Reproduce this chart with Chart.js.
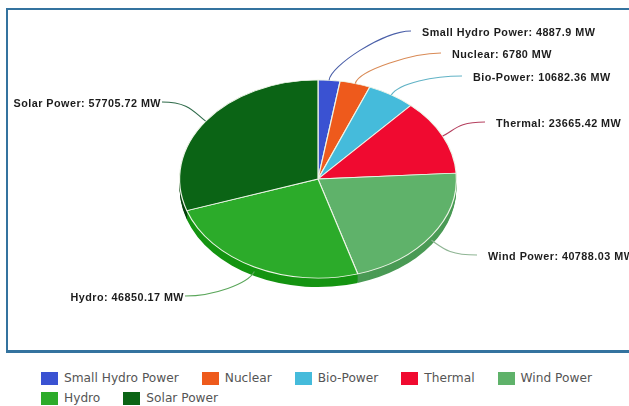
<!DOCTYPE html>
<html lang="en">
<head>
    <meta charset="UTF-8">
    <title>Installed capacity by source</title>
    <script src="https://cdn.jsdelivr.net/npm/chart.js"></script>
    <style>
        html, body { margin: 0; padding: 0; background: #fff; overflow: hidden; }
        #frame { position: absolute; left: 6px; top: 8px; width: 621px; height: 340px; border: solid #34739f; border-width: 2px 1px 3px 2px; border-right-color: #c4e6ee; }
        #chart { position: absolute; left: 0; top: 0; }
        #legend { position: absolute; left: 41px; top: 371px; width: 575px; display: flex; flex-wrap: wrap; column-gap: 23px; row-gap: 6px; font: 12.2px "DejaVu Sans", sans-serif; color: #555; }
        #legend div { display: flex; align-items: center; height: 14px; }
        #legend span { display: inline-block; width: 17px; height: 13px; margin-right: 6px; }
    </style>
</head>
<body>

    <div id="frame"></div>
    <canvas id="chart" width="629" height="360"></canvas>
    <div id="legend"></div>

    <script>
        const labels = ["Small Hydro Power", "Nuclear", "Bio-Power", "Thermal", "Wind Power", "Hydro", "Solar Power"];
        const values = [4887.9, 6780, 10682.36, 23665.42, 40788.03, 46850.17, 57705.72];
        const valueText = ["4887.9", "6780", "10682.36", "23665.42", "40788.03", "46850.17", "57705.72"];

        const colors = ["#3a52d2", "#ee5a1c", "#45bbdb", "#f00a30", "#5fb26a", "#2cab2a", "#0b6415"];
        const sideColors = ["#2a3ca0", "#b04414", "#338ba3", "#b00824", "#4a9a55", "#159412", "#07410e"];
        const lineColors = ["#4a5fa8", "#d98a55", "#62b3c6", "#b5405f", "#8fb594", "#5aa65a", "#2f6b4a"];

        // where each callout text sits: [x, y, align]
        const calloutPos = [
            [422, 33, "left"], [452, 55, "left"], [473, 78, "left"], [496, 124, "left"],
            [488, 257, "left"], [184, 298, "right"], [161, 104, "right"]
        ];

        const squash = 0.716;
        const depth = 9;

        function squashAround(ctx, arc) {
            ctx.translate(arc.x, arc.y);
            ctx.scale(1, squash);
            ctx.translate(-arc.x, -arc.y);
        }

        // flattens the pie and draws the side wall under it
        const tiltPlugin = {
            id: "tilt",
            beforeDatasetDraw(chart) {
                const ctx = chart.ctx;
                const arcs = chart.getDatasetMeta(0).data;
                ctx.save();
                for (let dy = depth; dy > 0; dy--) {
                    arcs.forEach((arc, i) => {
                        ctx.save();
                        ctx.translate(0, dy);
                        squashAround(ctx, arc);
                        ctx.fillStyle = sideColors[i];
                        ctx.beginPath();
                        ctx.moveTo(arc.x, arc.y);
                        ctx.arc(arc.x, arc.y, arc.outerRadius, arc.startAngle, arc.endAngle);
                        ctx.closePath();
                        ctx.fill();
                        ctx.restore();
                    });
                }
                ctx.restore();
                ctx.save();
                squashAround(ctx, arcs[0]);
            },
            afterDatasetDraw(chart) {
                chart.ctx.restore();
            },
            afterDraw(chart) {
                const ctx = chart.ctx;
                const arcs = chart.getDatasetMeta(0).data;
                ctx.save();
                ctx.font = "bold 10.8px 'Liberation Sans', Arial, sans-serif";
                ctx.letterSpacing = "0.47px";
                ctx.textBaseline = "middle";
                arcs.forEach((arc, i) => {
                    const mid = (arc.startAngle + arc.endAngle) / 2;
                    const dx = Math.cos(mid), dy = Math.sin(mid);
                    const sx = arc.x + arc.outerRadius * dx;
                    const sy = arc.y + arc.outerRadius * squash * dy + (dy > 0 ? depth / 2 : 0);
                    const [tx, ty, align] = calloutPos[i];
                    const toRight = align === "left";
                    const ex = toRight ? tx - 11 : tx + 1;
                    const ey = ty - 2;
                    ctx.strokeStyle = lineColors[i];
                    ctx.lineWidth = 1.1;
                    ctx.beginPath();
                    ctx.moveTo(sx, sy);
                    ctx.bezierCurveTo(sx + dx * 14, sy + dy * 14, ex + (toRight ? -28 : 28), ey, ex, ey);
                    ctx.stroke();
                    ctx.fillStyle = "#1c1c1c";
                    ctx.textAlign = align;
                    ctx.fillText(labels[i] + ": " + valueText[i] + " MW", tx, ty);
                });
                ctx.restore();
            }
        };

        new Chart(document.getElementById("chart"), {
            type: "pie",
            data: {
                labels: labels,
                datasets: [{
                    data: values,
                    backgroundColor: colors,
                    borderColor: "#eef5e8",
                    borderWidth: 1.2
                }]
            },
            options: {
                responsive: false,
                animation: false,
                layout: { padding: { left: 9, right: 2, top: 40, bottom: 42 } },
                plugins: { legend: { display: false }, tooltip: { enabled: false } }
            },
            plugins: [tiltPlugin]
        });

        const legend = document.getElementById("legend");
        labels.forEach((name, i) => {
            const item = document.createElement("div");
            const box = document.createElement("span");
            box.style.background = colors[i];
            item.appendChild(box);
            item.appendChild(document.createTextNode(name));
            legend.appendChild(item);
        });
    </script>

</body>
</html>
